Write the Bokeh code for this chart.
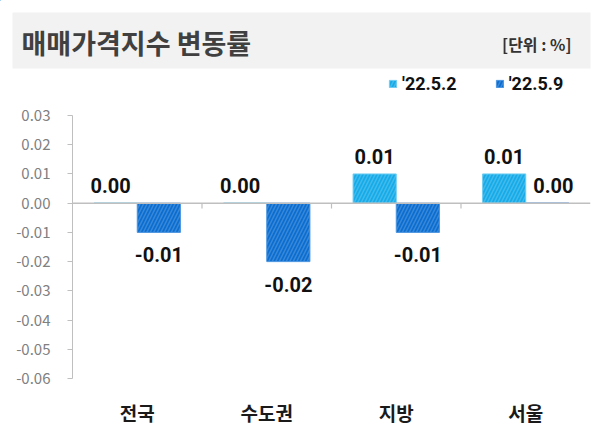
from bokeh.plotting import figure
from bokeh.layouts import column
from bokeh.models import (ColumnDataSource, FactorRange, Range1d, FixedTicker,
                          NumeralTickFormatter, Span, Legend, LegendItem)
from bokeh.transform import dodge
from bokeh.core.properties import value
from bokeh.embed import file_html
from bokeh.resources import INLINE

# ---------------- data ----------------
categories = ["전국", "수도권", "지방", "서울"]
series_names = ["'22.5.2", "'22.5.9"]
values_0502 = [0.00, 0.00, 0.01, 0.01]
values_0509 = [-0.01, -0.02, -0.01, 0.00]
y_ticks = [0.03, 0.02, 0.01, 0.00, -0.01, -0.02, -0.03, -0.04, -0.05, -0.06]
title_text = "매매가격지수 변동률"
unit_text = "[단위 : %]"

# ---------------- style ----------------
FILL = ["#16abe8", "#0b6dd0"]
EDGE = ["#6fcdf2", "#4a95e0"]
KR = "'Noto Sans CJK KR', 'Noto Sans', sans-serif"
NUM = "Roboto, 'Noto Sans', sans-serif"
BAR_W = 1 / 3
W = 592
HEAD_H = 100
MAIN_H = 333
BAR_STYLE = dict(line_width=1, hatch_pattern="/", hatch_color="white",
                 hatch_alpha=0.18, hatch_scale=7, hatch_weight=1.5)

# ---------------- header (title band + legend) ----------------
head = figure(width=W, height=HEAD_H, x_range=Range1d(0, W), y_range=Range1d(HEAD_H, 0),
              x_axis_type=None, y_axis_type=None, output_backend="svg",
              toolbar_location=None, min_border=0)
head.frame_align = False
head.outline_line_color = None
head.grid.grid_line_color = None
head.quad(left=12, right=590, top=12, bottom=68, fill_color="#f2f2f2", line_color=None)
head.text(x=[21], y=[42], text=[title_text], text_font=value(KR), text_font_size="27px",
          text_font_style="bold", text_color="#404040", text_baseline="middle")
head.text(x=[571], y=[43], text=[unit_text], text_font=value(KR), text_font_size="16px",
          text_font_style="bold", text_color="#333333", text_baseline="middle",
          text_align="right")
# legend proxies: one bar each, lying outside the visible header range
dummies = [head.vbar(x=[-100], top=[-100], bottom=[-90], width=1,
                     fill_color=FILL[i], line_color=EDGE[i], **BAR_STYLE)
           for i in range(len(series_names))]
legend = Legend(items=[LegendItem(label=n, renderers=[r]) for n, r in zip(series_names, dummies)],
                orientation="horizontal", location=(388, 6),
                glyph_width=9, glyph_height=9, label_standoff=5, spacing=38,
                label_height=18, padding=0, margin=0,
                background_fill_alpha=0, border_line_color=None,
                label_text_font=NUM, label_text_font_style="bold",
                label_text_font_size="18px", label_text_color="#111111")
head.add_layout(legend)

# ---------------- main chart ----------------
p = figure(width=W, height=MAIN_H,
           x_range=FactorRange(factors=categories),
           y_range=Range1d(min(y_ticks), max(y_ticks)),
           output_backend="svg", toolbar_location=None,
           min_border_left=72, min_border_right=2,
           min_border_top=15, min_border_bottom=55)
p.frame_align = False
p.outline_line_color = None
p.xgrid.grid_line_color = None
p.ygrid.grid_line_color = None

# y axis
p.yaxis.ticker = FixedTicker(ticks=y_ticks)
p.yaxis.formatter = NumeralTickFormatter(format="0.00")
p.yaxis.axis_line_color = "#bfbfbf"
p.yaxis.major_tick_line_color = "#bfbfbf"
p.yaxis.major_tick_out = 5
p.yaxis.major_tick_in = 0
p.yaxis.minor_tick_line_color = None
p.yaxis.major_label_standoff = 17
p.yaxis.major_label_text_font = KR
p.yaxis.major_label_text_font_size = "15px"
p.yaxis.major_label_text_color = "#808080"

# x axis (category names)
p.xaxis.axis_line_color = None
p.xaxis.major_tick_line_color = None
p.xaxis.minor_tick_line_color = None
p.xaxis.major_label_standoff = 14
p.xaxis.major_label_text_font = KR
p.xaxis.major_label_text_font_style = "bold"
p.xaxis.major_label_text_font_size = "19px"
p.xaxis.major_label_text_color = "#1a1a1a"

# zero line with category boundary ticks
p.add_layout(Span(location=0, dimension="width", line_color="#bfbfbf", line_width=1.5))
bounds = list(range(1, len(categories)))
p.segment(x0=bounds, y0=[0] * len(bounds), x1=bounds, y1=[-0.0018] * len(bounds),
          line_color="#bfbfbf", line_width=1.2)

for i, vals in enumerate([values_0502, values_0509]):
    off = (i - 0.5) * BAR_W
    src = ColumnDataSource(dict(
        cat=categories,
        val=vals,
        label=[f"{v:.2f}" for v in vals],
        base=["top" if v < 0 else "bottom" for v in vals],
        yo=[15 if v < 0 else -10 for v in vals],
        xo=[(-5 if i == 0 else 6) if v == 0 else 0 for v in vals],
    ))
    p.vbar(x=dodge("cat", off, range=p.x_range), top="val", bottom=0,
           width=BAR_W, source=src, fill_color=FILL[i], line_color=EDGE[i], **BAR_STYLE)
    p.text(x=dodge("cat", off, range=p.x_range), y="val", text="label", source=src,
           text_font=value(NUM), text_font_style="bold", text_font_size="20px",
           text_color="#111111", text_align="center",
           text_baseline="base", y_offset="yo", x_offset="xo")

layout = column(head, p, spacing=0)
open("out.html", "w").write(file_html(layout, INLINE))
